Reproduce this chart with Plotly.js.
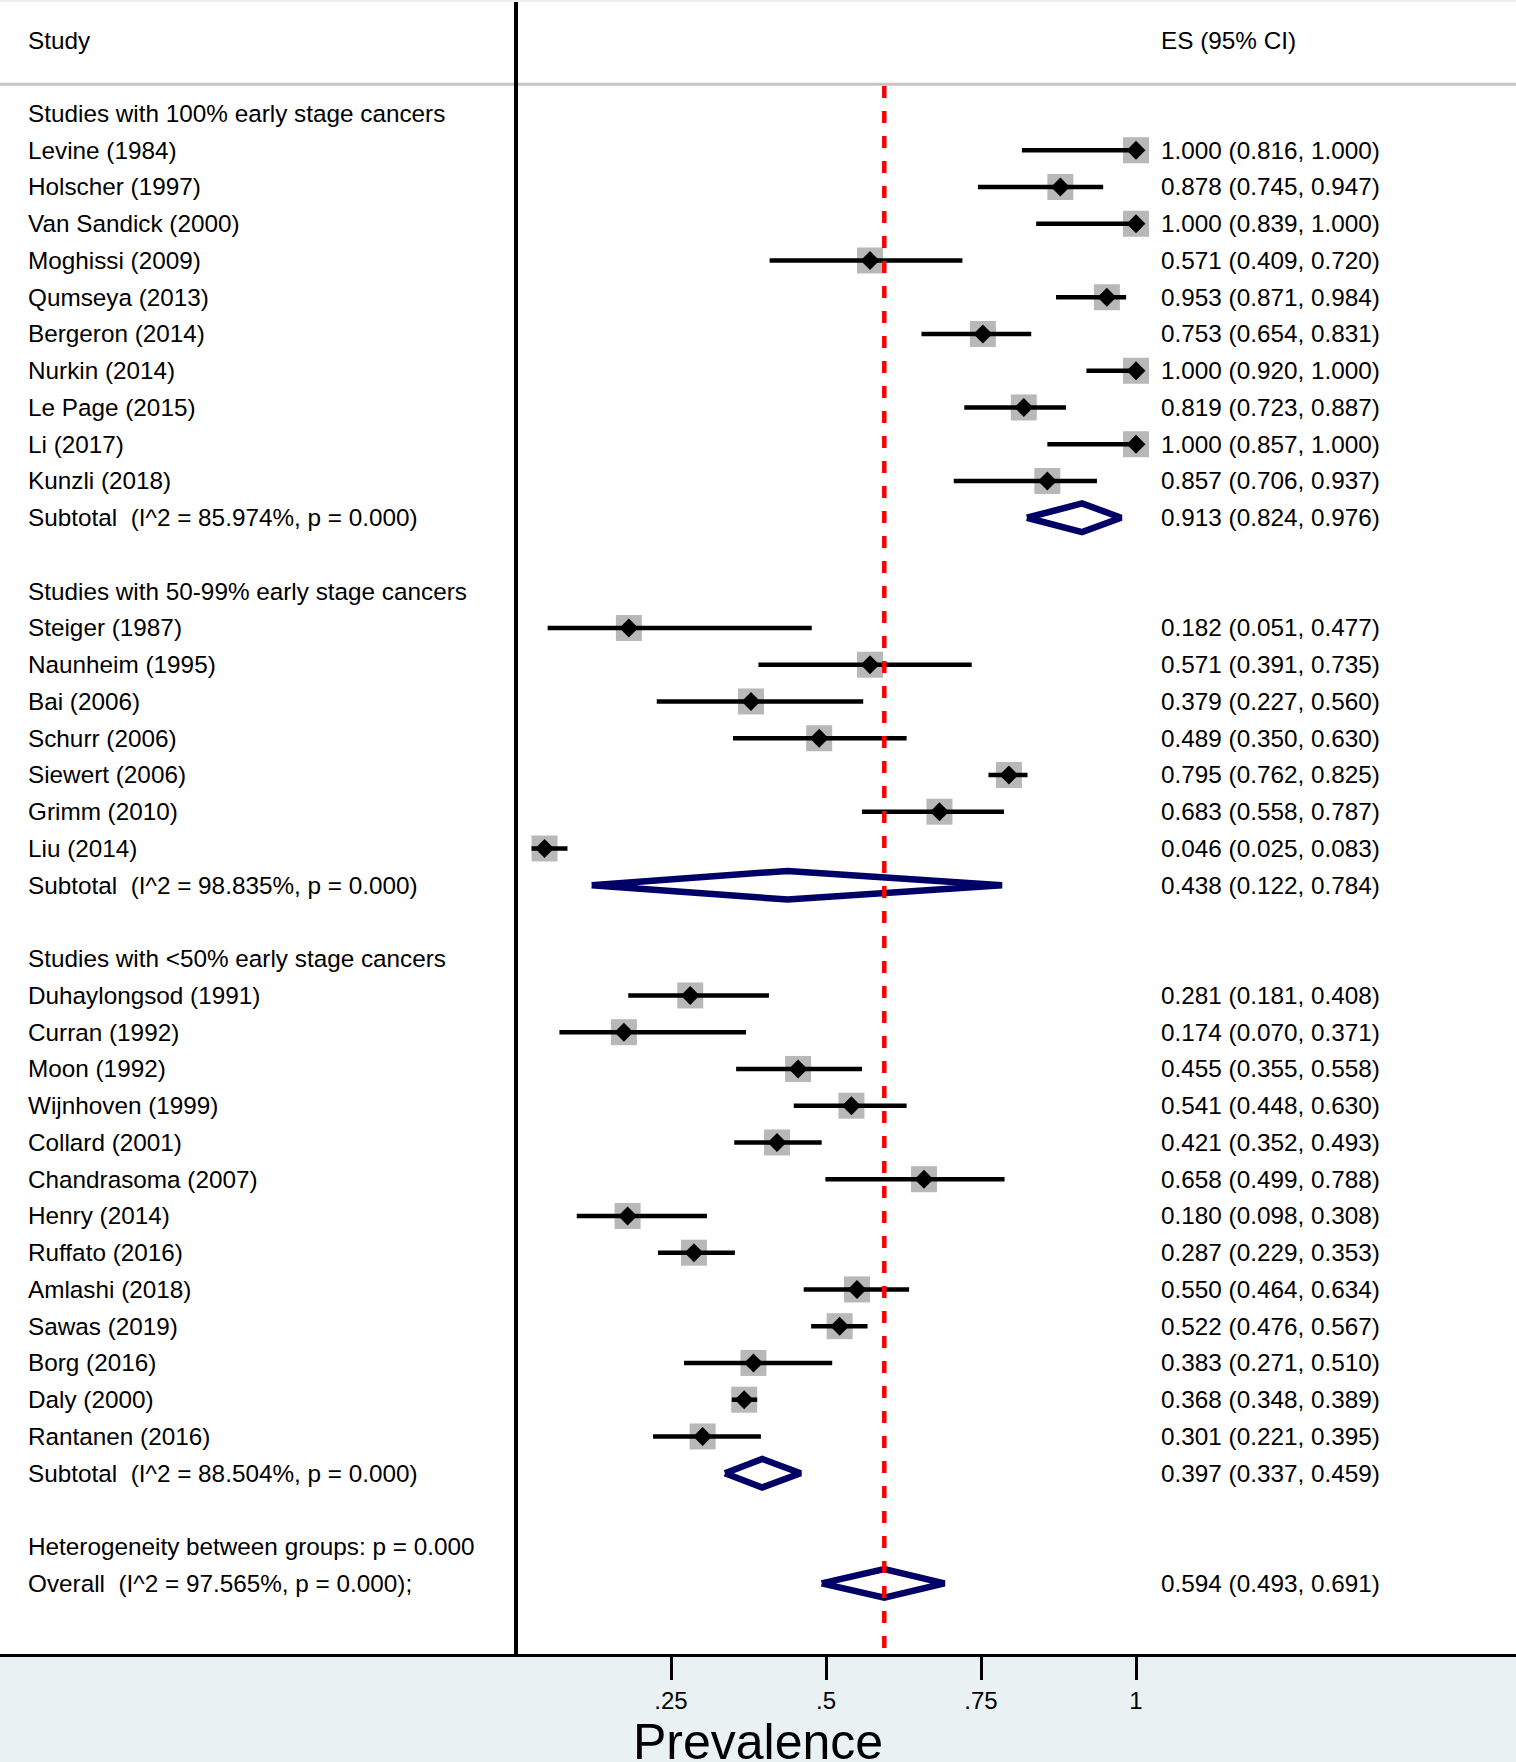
<!DOCTYPE html>
<html>
<head>
<meta charset="utf-8">
<script src="https://cdn.plot.ly/plotly-3.0.1.min.js"></script>
<style>html,body{margin:0;padding:0;background:#e9f1f3;}</style>
</head>
<body>
<div id="chart" style="width:1516px;height:1762px;"></div>
<script>
// ---------- DATA ----------
const colHeaders = ["Study", "ES (95% CI)"];
const headings = [
  "Studies with 100% early stage cancers",
  "Studies with 50-99% early stage cancers",
  "Studies with &lt;50% early stage cancers"
];

const g1Names = ["Levine (1984)", "Holscher (1997)", "Van Sandick (2000)", "Moghissi (2009)", "Qumseya (2013)",
                 "Bergeron (2014)", "Nurkin (2014)", "Le Page (2015)", "Li (2017)", "Kunzli (2018)"];
const g1ES = [1.000, 0.878, 1.000, 0.571, 0.953, 0.753, 1.000, 0.819, 1.000, 0.857];
const g1Lo = [0.816, 0.745, 0.839, 0.409, 0.871, 0.654, 0.920, 0.723, 0.857, 0.706];
const g1Hi = [1.000, 0.947, 1.000, 0.720, 0.984, 0.831, 1.000, 0.887, 1.000, 0.937];

const g2Names = ["Steiger (1987)", "Naunheim (1995)", "Bai (2006)", "Schurr (2006)", "Siewert (2006)",
                 "Grimm (2010)", "Liu (2014)"];
const g2ES = [0.182, 0.571, 0.379, 0.489, 0.795, 0.683, 0.046];
const g2Lo = [0.051, 0.391, 0.227, 0.350, 0.762, 0.558, 0.025];
const g2Hi = [0.477, 0.735, 0.560, 0.630, 0.825, 0.787, 0.083];

const g3Names = ["Duhaylongsod (1991)", "Curran (1992)", "Moon (1992)", "Wijnhoven (1999)", "Collard (2001)",
                 "Chandrasoma (2007)", "Henry (2014)", "Ruffato (2016)", "Amlashi (2018)", "Sawas (2019)",
                 "Borg (2016)", "Daly (2000)", "Rantanen (2016)"];
const g3ES = [0.281, 0.174, 0.455, 0.541, 0.421, 0.658, 0.180, 0.287, 0.550, 0.522, 0.383, 0.368, 0.301];
const g3Lo = [0.181, 0.070, 0.355, 0.448, 0.352, 0.499, 0.098, 0.229, 0.464, 0.476, 0.271, 0.348, 0.221];
const g3Hi = [0.408, 0.371, 0.558, 0.630, 0.493, 0.788, 0.308, 0.353, 0.634, 0.567, 0.510, 0.389, 0.395];

const subLabels = [
  "Subtotal\u00a0 (I^2 = 85.974%, p = 0.000)",
  "Subtotal\u00a0 (I^2 = 98.835%, p = 0.000)",
  "Subtotal\u00a0 (I^2 = 88.504%, p = 0.000)"
];
const subES = [0.913, 0.438, 0.397];
const subLo = [0.824, 0.122, 0.337];
const subHi = [0.976, 0.784, 0.459];

const hetLabel = "Heterogeneity between groups: p = 0.000";
const overallLabel = "Overall\u00a0 (I^2 = 97.565%, p = 0.000);";
const overallES = [0.594];
const overallLo = [0.493];
const overallHi = [0.691];

const tickVals = [0.25, 0.5, 0.75, 1];
const tickText = [".25", ".5", ".75", "1"];
const axisTitle = "Prevalence";

// ---------- BUILD ----------
const FONT = "Liberation Sans, Arial, Helvetica, sans-serif";
const TXT = 24.3;
const studyColX = -0.79;
const esColX = 1.037;
const headerRow = -2.0;
const headerLineRow = -0.795;
const dHalf = 0.39;

function fmt(v) { return v.toFixed(3); }
function esText(e, l, h) { return fmt(e) + " (" + fmt(l) + ", " + fmt(h) + ")"; }

const groupsNames = [g1Names, g2Names, g3Names];
const groupsES = [g1ES, g2ES, g3ES];
const groupsLo = [g1Lo, g2Lo, g3Lo];
const groupsHi = [g1Hi, g2Hi, g3Hi];

const studyX = [], studyY = [], ciX = [], ciY = [];
const annotations = [];
const diamondTraces = [];

function leftText(txt, row) {
  annotations.push({x: studyColX, y: row, xref: "x", yref: "y", text: txt, showarrow: false,
    xanchor: "left", yanchor: "middle", font: {family: FONT, size: TXT, color: "#000"}});
}
function rightText(txt, row) {
  annotations.push({x: esColX, y: row, xref: "x", yref: "y", text: txt, showarrow: false,
    xanchor: "left", yanchor: "middle", font: {family: FONT, size: TXT, color: "#000"}});
}
function diamond(e, l, h, row) {
  diamondTraces.push({
    type: "scatter", mode: "lines",
    x: [l, e, h, e, l], y: [row, row - dHalf, row, row + dHalf, row],
    fill: "toself", fillcolor: "#ffffff",
    line: {color: "#000066", width: 6.5},
    hoverinfo: "skip", showlegend: false
  });
}

let row = 0;
for (let g = 0; g < 3; g++) {
  leftText(headings[g], row); row++;
  for (let i = 0; i < groupsNames[g].length; i++) {
    const e = groupsES[g][i], l = groupsLo[g][i], h = groupsHi[g][i];
    leftText(groupsNames[g][i], row);
    rightText(esText(e, l, h), row);
    studyX.push(e); studyY.push(row);
    ciX.push(l, h, null); ciY.push(row, row, null);
    row++;
  }
  leftText(subLabels[g], row);
  rightText(esText(subES[g], subLo[g], subHi[g]), row);
  diamond(subES[g], subLo[g], subHi[g], row);
  row++;
  row++; // blank
}
leftText(hetLabel, row); row++;
leftText(overallLabel, row);
rightText(esText(overallES[0], overallLo[0], overallHi[0]), row);
diamond(overallES[0], overallLo[0], overallHi[0], row);

// headers
annotations.push({x: studyColX, y: headerRow, xref: "x", yref: "y", text: colHeaders[0], showarrow: false,
  xanchor: "left", yanchor: "middle", font: {family: FONT, size: TXT, color: "#000"}});
annotations.push({x: esColX, y: headerRow, xref: "x", yref: "y", text: colHeaders[1], showarrow: false,
  xanchor: "left", yanchor: "middle", font: {family: FONT, size: TXT, color: "#000"}});
// axis title
annotations.push({x: 0.5, y: 0, xref: "paper", yref: "paper", text: axisTitle, showarrow: false,
  xanchor: "center", yanchor: "top", yshift: -58, font: {family: FONT, size: 50, color: "#000"}});

const traces = [
  {type: "scatter", mode: "markers", x: studyX, y: studyY,
   marker: {symbol: "square", size: 26, color: "#b8b8b8", line: {width: 0}},
   hoverinfo: "skip", showlegend: false},
  {type: "scatter", mode: "lines", x: ciX, y: ciY, connectgaps: false,
   line: {color: "#000000", width: 4.5}, hoverinfo: "skip", showlegend: false},
  {type: "scatter", mode: "markers", x: studyX, y: studyY,
   marker: {symbol: "diamond", size: 14.5, color: "#000000", line: {width: 0}},
   hoverinfo: "skip", showlegend: false}
].concat(diamondTraces);

const yBottom = 41.92;
const yTop = -3.034;

const layout = {
  width: 1516, height: 1762,
  margin: {l: 0, r: 0, t: 2, b: 108, pad: 0},
  paper_bgcolor: "#e9f1f3",
  plot_bgcolor: "#ffffff",
  showlegend: false,
  font: {family: FONT, color: "#000"},
  xaxis: {
    range: [-0.8323, 1.6129], showgrid: false, zeroline: false,
    tickmode: "array", tickvals: tickVals, ticktext: tickText,
    ticks: "outside", ticklen: 23, tickwidth: 3, tickcolor: "#000",
    showline: true, linewidth: 3, linecolor: "#000",
    tickfont: {family: FONT, size: 24, color: "#000"},
    ticklabelstandoff: 0,
    fixedrange: true
  },
  yaxis: {
    range: [yBottom, yTop], showgrid: false, zeroline: false, showline: false,
    showticklabels: false, ticks: "", fixedrange: true
  },
  shapes: [
    {type: "line", xref: "paper", yref: "y", x0: 0, x1: 1, y0: headerLineRow, y1: headerLineRow,
     line: {color: "#c4c4c4", width: 3}, layer: "above"},
    {type: "line", xref: "x", yref: "paper", x0: 0, x1: 0, y0: 0, y1: 1,
     line: {color: "#000000", width: 4}, layer: "above"},
    {type: "line", xref: "x", yref: "y", x0: overallES[0], x1: overallES[0], y0: headerLineRow + 0.05, y1: yBottom,
     line: {color: "#ff0000", width: 4.5, dash: "12px,13px"}, layer: "above"}
  ],
  annotations: annotations
};

Plotly.newPlot("chart", traces, layout, {displayModeBar: false, staticPlot: true});
</script>
</body>
</html>
